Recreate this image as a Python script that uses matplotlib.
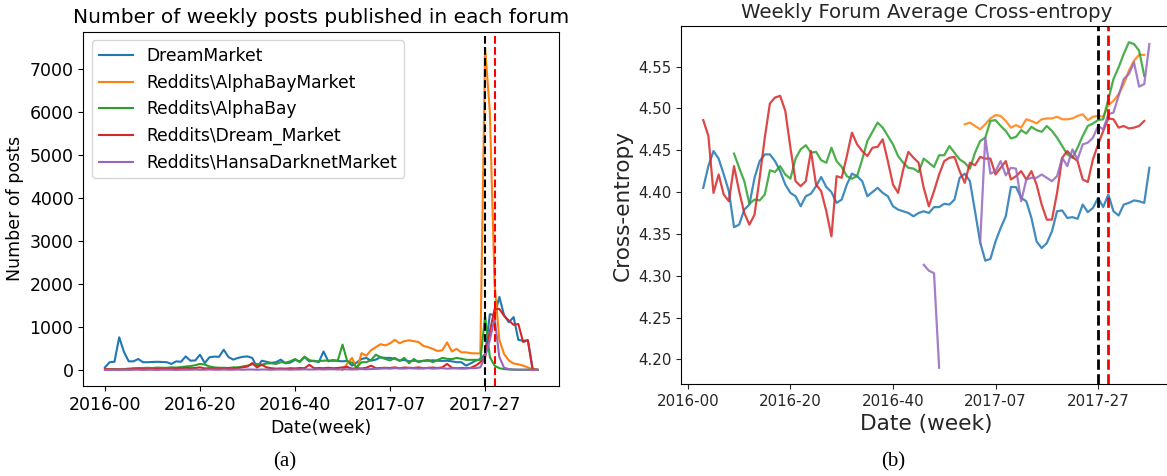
import numpy as np
import matplotlib
matplotlib.use('Agg')
import matplotlib.pyplot as plt

nan = np.nan

# ---------------- (a) weekly posts per forum ----------------
weeks_posts = list(range(0, 92))
forums = ['DreamMarket', 'Reddits\\AlphaBayMarket', 'Reddits\\AlphaBay',
          'Reddits\\Dream_Market', 'Reddits\\HansaDarknetMarket']

posts_dreammarket = [
    60, 180, 190, 760, 420, 200, 200, 255, 180, 180,
    185, 190, 185, 180, 140, 200, 190, 315, 215, 220,
    355, 160, 295, 310, 305, 470, 300, 240, 280, 305,
    315, 280, 60, 215, 190, 165, 180, 240, 155, 170,
    235, 200, 300, 200, 215, 180, 430, 200, 230, 210,
    200, 210, 100, 175, 255, 280, 215, 240, 295, 280,
    280, 260, 220, 230, 200, 215, 200, 210, 215, 225,
    215, 210, 215, 200, 180, 180, 100, 155, 215, 250,
    370, 1300, 1270, 1700, 1270, 1110, 1230, 700, 680, 690,
    20, 10]
posts_alphabaymarket = [nan] * 50 + [
    0, 150, 280, 10, 390, 330, 460, 530, 600, 570,
    620, 700, 620, 670, 690, 670, 650, 560, 530, 490,
    440, 460, 640, 430, 490, 410, 410, 390, 385, 385,
    7500, 6000, 2000, 700, 370, 220, 150, 130, 100, 60,
    10, 5]
posts_alphabay = [
    10, 15, 20, 10, 20, 30, 40, 40, 45, 50,
    45, 55, 50, 50, 60, 55, 65, 80, 90, 110,
    140, 125, 80, 60, 50, 50, 45, 60, 60, 80,
    100, 130, 140, 120, 150, 155, 140, 180, 170, 200,
    255, 180, 310, 230, 200, 205, 215, 220, 210, 220,
    590, 200, 170, 60, 180, 180, 230, 355, 295, 255,
    220, 280, 210, 280, 155, 255, 180, 215, 230, 180,
    230, 280, 260, 250, 280, 260, 235, 235, 235, 235,
    1250, 300, 100, 40, 20, 10, 5, 5, 5, 5,
    5, 0]
posts_dream_market = [
    20, 15, 10, 15, 10, 15, 20, 35, 15, 20,
    25, 20, 30, 25, 30, 40, 35, 50, 40, 45,
    60, 35, 40, 30, 35, 30, 40, 35, 45, 60,
    80, 160, 60, 120, 60, 40, 30, 35, 30, 40,
    35, 45, 40, 120, 40, 45, 40, 50, 40, 45,
    60, 70, 30, 40, 35, 50, 100, 40, 45, 50,
    45, 60, 40, 55, 50, 45, 60, 40, 50, 55,
    45, 60, 140, 50, 40, 45, 40, 50, 100, 180,
    300, 900, 1420, 1420, 1260, 1150, 1050, 1070, 650, 690,
    10, 0]
posts_hansa = [
    0, 0, 5, 0, 5, 0, 5, 5, 0, 5,
    5, 0, 5, 5, 5, 0, 5, 5, 5, 10,
    5, 5, 10, 5, 5, 10, 5, 5, 10, 5,
    10, 10, 5, 10, 10, 5, 10, 10, 10, 5,
    10, 10, 15, 10, 10, 15, 10, 15, 15, 10,
    15, 15, 10, 15, 20, 15, 20, 25, 30, 35,
    30, 40, 35, 30, 40, 35, 30, 35, 40, 30,
    35, 40, 30, 35, 40, 30, 35, 40, 40, 60,
    300, 700, 1200, 300, 50, 20, 10, 5, 5, 5,
    0, 0]

# ---------------- (b) weekly average cross-entropy ----------------
weeks_ce_dreammarket = list(range(3, 91))
ce_dreammarket = [
    4.405, 4.431, 4.449, 4.440, 4.421, 4.401, 4.358, 4.361, 4.379, 4.385,
    4.417, 4.437, 4.445, 4.445, 4.437, 4.425, 4.409, 4.399, 4.395, 4.383,
    4.395, 4.398, 4.407, 4.418, 4.406, 4.400, 4.387, 4.391,
    4.409, 4.422, 4.419, 4.413, 4.395, 4.400, 4.405, 4.399, 4.395, 4.383,
    4.379, 4.377, 4.375, 4.371, 4.375, 4.377, 4.375, 4.382, 4.382, 4.386,
    4.385, 4.391, 4.417, 4.422, 4.413, 4.377,
    4.340, 4.318, 4.320, 4.341, 4.357, 4.371, 4.406, 4.406, 4.393, 4.389,
    4.369, 4.341, 4.333, 4.339, 4.353, 4.377, 4.378, 4.369, 4.370, 4.368,
    4.385, 4.376, 4.381, 4.393, 4.382, 4.397, 4.377, 4.372, 4.385, 4.387,
    4.390, 4.389, 4.387, 4.429]

weeks_ce_alphabaymarket = list(range(54, 90))
ce_alphabaymarket = [
    4.481, 4.483, 4.479, 4.475, 4.481, 4.488, 4.492, 4.491, 4.485, 4.477,
    4.480, 4.477, 4.487, 4.485, 4.482, 4.487, 4.488, 4.488, 4.490, 4.487,
    4.487, 4.488, 4.491, 4.493, 4.486, 4.490, 4.491, 4.490, 4.504, 4.509,
    4.517, 4.529, 4.545, 4.557, 4.564, 4.564]

weeks_ce_alphabay = list(range(9, 90))
ce_alphabay = [
    4.446, 4.429, 4.413, 4.386, 4.391, 4.390, 4.397, 4.426, 4.424, 4.431,
    4.421, 4.416, 4.440, 4.451, 4.456, 4.447, 4.448, 4.438, 4.435, 4.453,
    4.437, 4.430,
    4.419, 4.416, 4.419, 4.439, 4.461, 4.472, 4.483, 4.477, 4.467, 4.457,
    4.443, 4.435, 4.429, 4.428, 4.424, 4.440, 4.435, 4.430, 4.444, 4.444,
    4.455, 4.447, 4.439, 4.435, 4.428, 4.447,
    4.461, 4.465, 4.485, 4.486, 4.479, 4.473, 4.464, 4.466, 4.474, 4.470,
    4.478, 4.474, 4.472, 4.479, 4.473, 4.465, 4.455, 4.445, 4.441, 4.453,
    4.467, 4.479, 4.482, 4.486, 4.487, 4.511, 4.535, 4.549, 4.565, 4.579,
    4.577, 4.569, 4.539]

weeks_ce_dream_market = list(range(3, 90))
ce_dream_market = [
    4.486, 4.467, 4.399, 4.421, 4.397, 4.389, 4.431, 4.401, 4.375, 4.361,
    4.373, 4.417, 4.465, 4.506, 4.513, 4.515, 4.497, 4.453, 4.413, 4.407,
    4.413, 4.449, 4.409, 4.401, 4.377, 4.347, 4.419, 4.417,
    4.443, 4.471, 4.457, 4.449, 4.443, 4.453, 4.454, 4.463, 4.437, 4.409,
    4.399, 4.427, 4.448, 4.441, 4.435, 4.405, 4.383, 4.401, 4.421, 4.437,
    4.441, 4.442, 4.425, 4.411, 4.435, 4.432,
    4.442, 4.440, 4.440, 4.421, 4.429, 4.437, 4.415, 4.419, 4.425, 4.415,
    4.425, 4.409, 4.385, 4.367, 4.367, 4.399, 4.441, 4.449, 4.442, 4.437,
    4.415, 4.412, 4.439, 4.457, 4.473, 4.488, 4.487, 4.477, 4.479, 4.476,
    4.477, 4.479, 4.485]

weeks_ce_hansa = list(range(46, 91))
ce_hansa = [
    4.313, 4.306, 4.303, 4.190, nan, nan, nan, nan, nan, nan, nan,
    4.339, 4.465, 4.422, 4.425, 4.437, 4.420, 4.429, 4.428, 4.389, 4.415,
    4.417, 4.417, 4.421, 4.417, 4.413, 4.419, 4.441, 4.431, 4.451, 4.439,
    4.457, 4.459, 4.465, 4.479, 4.475, 4.493, 4.495, 4.515, 4.535, 4.541,
    4.555, 4.526, 4.529, 4.577]

tick_weeks = [0, 20, 40, 60, 80]
tick_labels = ['2016-00', '2016-20', '2016-40', '2017-07', '2017-27']
event_black = 80
event_red = 82

fig = plt.figure(figsize=(11.67, 4.76), dpi=100)

# left panel
ax1 = fig.add_axes([0.0714, 0.189, 0.4076, 0.7443])
posts = [posts_dreammarket, posts_alphabaymarket, posts_alphabay,
         posts_dream_market, posts_hansa]
for name, vals in zip(forums, posts):
    ax1.plot(weeks_posts, vals, label=name, linewidth=1.5)
ax1.axvline(event_black, color='black', linestyle='--', linewidth=1.5)
ax1.axvline(event_red, color='red', linestyle='--', linewidth=1.5)
ax1.set_xticks(tick_weeks)
ax1.set_xticklabels(tick_labels)
ax1.tick_params(labelsize=12.5)
ax1.set_xlabel('Date(week)', fontsize=12.5)
ax1.set_ylabel('Number of posts', fontsize=12.5)
ax1.set_title('Number of weekly posts published in each forum', fontsize=14.5)
ax1.legend(loc='upper left', fontsize=12.3)

# right panel
txt = '#262626'
ax2 = fig.add_axes([0.5835, 0.1933, 0.4205, 0.752])
ce_series = [(weeks_ce_dreammarket, ce_dreammarket),
             (weeks_ce_alphabaymarket, ce_alphabaymarket),
             (weeks_ce_alphabay, ce_alphabay),
             (weeks_ce_dream_market, ce_dream_market),
             (weeks_ce_hansa, ce_hansa)]
for i, (wk, vals) in enumerate(ce_series):
    ax2.plot(wk, vals, color='C%d' % i, linewidth=1.6, alpha=0.85)
ax2.axvline(event_black, color='black', linestyle='--', linewidth=2)
ax2.axvline(event_red, color='red', linestyle='--', linewidth=2)
ax2.set_xticks(tick_weeks)
ax2.set_xticklabels(tick_labels)
ax2.set_yticks([4.20, 4.25, 4.30, 4.35, 4.40, 4.45, 4.50, 4.55])
ax2.tick_params(labelsize=10.8, colors=txt)
ax2.set_xlabel('Date (week)', fontsize=15.6, color=txt)
ax2.set_ylabel('Cross-entropy', fontsize=15.6, color=txt)
ax2.set_title('Weekly Forum Average Cross-entropy', fontsize=14.2, color=txt)

fig.text(285 / 1167, 1 - 462 / 476, '(a)', family='Liberation Serif',
         fontsize=15, ha='center', va='center')
fig.text(893 / 1167, 1 - 462 / 476, '(b)', family='Liberation Serif',
         fontsize=15, ha='center', va='center')

fig.savefig('out.png', dpi=100)
